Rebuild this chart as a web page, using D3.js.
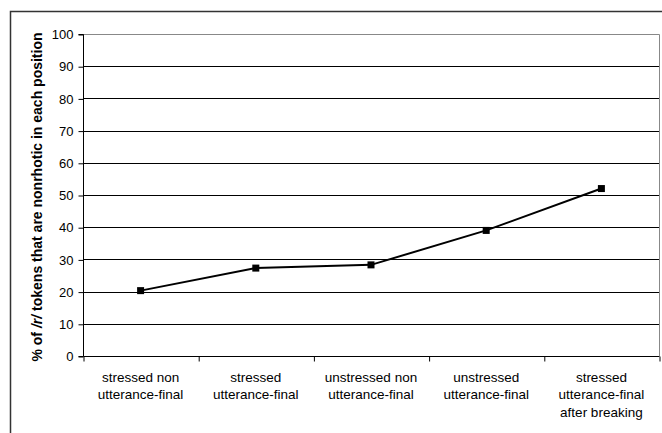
<!DOCTYPE html>
<html><head><meta charset="utf-8">
<script src="https://cdn.jsdelivr.net/npm/d3@7"></script>
<style>body{margin:0;background:#fff}svg{display:block}</style>
</head><body>
<script>
const categories = [
  ["stressed non", "utterance-final"],
  ["stressed", "utterance-final"],
  ["unstressed non", "utterance-final"],
  ["unstressed", "utterance-final"],
  ["stressed", "utterance-final", "after breaking"]
];
const values = [20.3, 27.3, 28.3, 39.0, 52.0];
const yTicks = [0, 10, 20, 30, 40, 50, 60, 70, 80, 90, 100];
const yTitleParts = [["% of ", false], ["/r/", true], [" tokens that are nonrhotic in each position", false]];

const W = 662, H = 433;
const svg = d3.select("body").append("svg").attr("width", W).attr("height", H);
const font = "'Liberation Sans', Arial, sans-serif";

// outer frame
svg.append("path").attr("d", `M10.5,${H} V11.5 H${W}`).attr("fill","none").attr("stroke","#333").attr("stroke-width",1.5);

const L = 83, R = 659, T = 34, B = 356;
const x = d3.scaleBand().domain(d3.range(categories.length)).range([L, R]);
const y = d3.scaleLinear().domain([0, 100]).range([B, T]);

// gridlines
svg.append("g").selectAll("line").data(yTicks.filter(d => d > 0 && d < 100)).join("line")
  .attr("x1", L).attr("x2", R).attr("y1", d => Math.round(y(d)) + 0.5).attr("y2", d => Math.round(y(d)) + 0.5)
  .attr("stroke", "#000").attr("stroke-width", 1);

// plot border top/right gray
svg.append("path").attr("d", `M${L},${T+0.5} H${R+0.5} V${B}`).attr("fill","none").attr("stroke","#888").attr("stroke-width",1);

// y axis
const yAxis = d3.axisLeft(y).tickValues(yTicks).tickSize(5).tickPadding(5);
const gy = svg.append("g").attr("transform", `translate(${L+0.5},0.5)`).call(yAxis);
gy.selectAll("text").attr("font-family", font).attr("font-size", 13).attr("fill", "#000");
gy.selectAll("line, path").attr("stroke", "#000");
gy.select(".domain").attr("d", `M-5,${T}H0V${B}H-5`);

// x axis
const xAxis = d3.axisBottom(d3.scaleLinear().domain([0, categories.length]).range([L, R]))
  .tickValues(d3.range(categories.length + 1)).tickSize(5).tickFormat("");
const gx = svg.append("g").attr("transform", `translate(0.5,${B+0.5})`).call(xAxis);
gx.selectAll("line, path").attr("stroke", "#000");
gx.select(".domain").attr("d", `M${L},0H${R}`);

// category labels
svg.append("g").selectAll("text").data(categories).join("text")
  .attr("x", (d, i) => x(i) + x.bandwidth() / 2)
  .attr("y", 381.5)
  .attr("text-anchor", "middle").attr("font-family", font).attr("font-size", 13.5).attr("fill", "#000")
  .each(function(d) {
    d3.select(this).selectAll("tspan").data(d).join("tspan")
      .attr("x", d3.select(this).attr("x")).attr("dy", (t, j) => j === 0 ? 0 : 17.5).text(t => t);
  });

// line
const cx = i => x(i) + x.bandwidth() / 2;
svg.append("path").datum(values)
  .attr("d", d3.line().x((d, i) => cx(i)).y(d => y(d)))
  .attr("fill", "none").attr("stroke", "#000").attr("stroke-width", 2);
svg.append("g").selectAll("rect").data(values).join("rect")
  .attr("x", (d, i) => cx(i) - 3.5).attr("y", d => y(d) - 3.5)
  .attr("width", 7).attr("height", 7).attr("fill", "#000");

// y title
svg.append("text").attr("transform", `translate(42,197) rotate(-90)`)
  .attr("text-anchor", "middle").attr("font-family", font).attr("font-weight", "bold")
  .attr("font-size", 14).attr("fill", "#000")
  .selectAll("tspan").data(yTitleParts).join("tspan")
  .attr("font-style", d => d[1] ? "italic" : "normal").text(d => d[0]);
</script>
</body></html>
